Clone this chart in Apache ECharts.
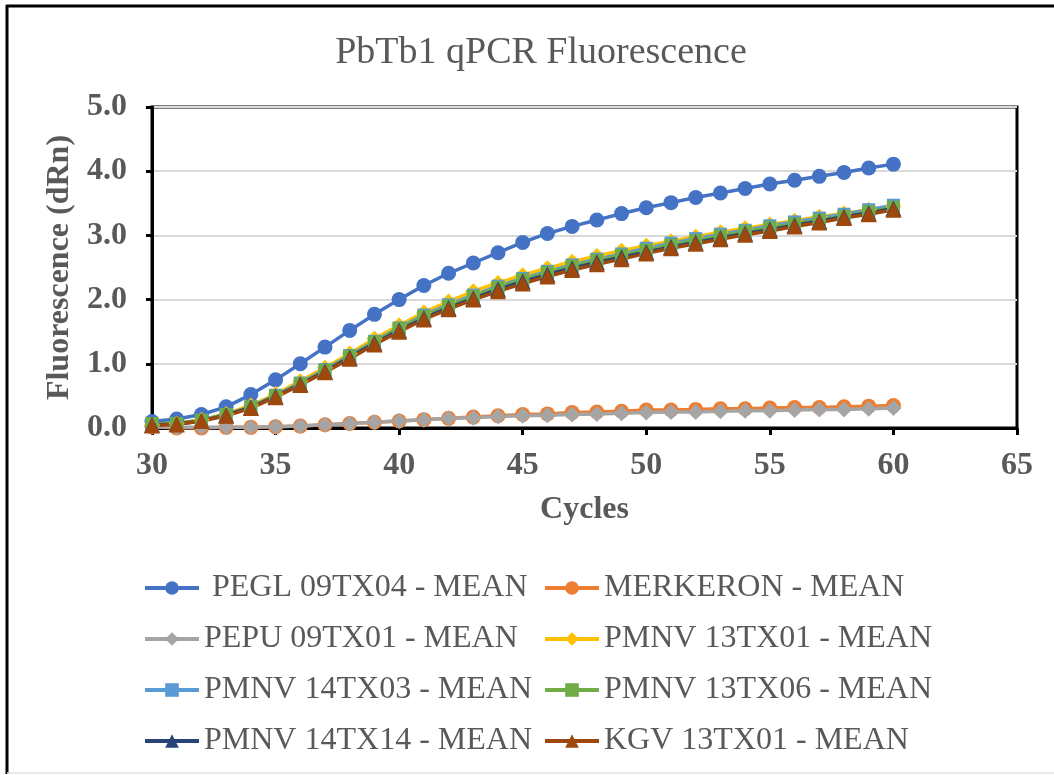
<!DOCTYPE html>
<html>
<head>
<meta charset="utf-8">
<script src="https://cdn.jsdelivr.net/npm/echarts@6/dist/echarts.min.js"></script>
<style>html,body{margin:0;padding:0;background:#fff;}#c{width:1054px;height:775px;}</style>
</head>
<body>
<div id="c"></div>
<script>
var cycles = [30,31,32,33,34,35,36,37,38,39,40,41,42,43,44,45,46,47,48,49,50,51,52,53,54,55,56,57,58,59,60];
var pegl09tx04 = [0.10,0.14,0.21,0.33,0.52,0.75,1.00,1.26,1.52,1.77,2.00,2.22,2.41,2.57,2.73,2.89,3.03,3.14,3.24,3.34,3.43,3.51,3.59,3.66,3.73,3.80,3.86,3.92,3.98,4.05,4.11];
var merkeron = [0.02,0.00,0.00,0.01,0.01,0.02,0.03,0.05,0.07,0.09,0.11,0.13,0.15,0.17,0.19,0.21,0.22,0.24,0.25,0.26,0.28,0.28,0.29,0.30,0.30,0.31,0.32,0.32,0.33,0.34,0.35];
var pepu09tx01 = [0.02,0.01,0.01,0.01,0.01,0.02,0.03,0.05,0.07,0.09,0.11,0.13,0.15,0.16,0.18,0.19,0.20,0.21,0.22,0.23,0.24,0.25,0.25,0.26,0.27,0.27,0.28,0.29,0.29,0.30,0.31];
var pmnv13tx01 = [0.05,0.07,0.13,0.22,0.35,0.53,0.73,0.94,1.16,1.39,1.60,1.80,1.97,2.13,2.26,2.38,2.49,2.59,2.68,2.76,2.84,2.91,2.98,3.05,3.11,3.17,3.23,3.29,3.34,3.40,3.45];
var pmnv14tx03 = [0.06,0.07,0.12,0.21,0.33,0.51,0.70,0.91,1.13,1.35,1.56,1.76,1.92,2.07,2.21,2.33,2.44,2.54,2.63,2.71,2.80,2.88,2.95,3.02,3.08,3.15,3.21,3.27,3.33,3.40,3.47];
var pmnv13tx06 = [0.07,0.07,0.12,0.21,0.33,0.50,0.69,0.90,1.12,1.34,1.55,1.74,1.90,2.05,2.19,2.31,2.42,2.52,2.61,2.69,2.77,2.85,2.92,2.99,3.06,3.12,3.18,3.24,3.30,3.37,3.44];
var pmnv14tx14 = [0.05,0.06,0.11,0.20,0.32,0.49,0.68,0.88,1.10,1.32,1.52,1.71,1.87,2.02,2.16,2.28,2.39,2.49,2.58,2.66,2.74,2.82,2.89,2.96,3.03,3.09,3.16,3.22,3.29,3.35,3.42];
var kgv13tx01 = [0.04,0.06,0.11,0.19,0.31,0.48,0.67,0.87,1.08,1.30,1.50,1.69,1.85,2.00,2.13,2.25,2.36,2.46,2.55,2.63,2.72,2.80,2.87,2.94,3.01,3.07,3.14,3.20,3.27,3.33,3.40];
var seriesNames = [' PEGL 09TX04 - MEAN','MERKERON - MEAN','PEPU 09TX01 - MEAN','PMNV 13TX01 - MEAN','PMNV 14TX03 - MEAN','PMNV 13TX06 - MEAN','PMNV 14TX14 - MEAN','KGV 13TX01 - MEAN'];
var xTicks = [30,35,40,45,50,55,60,65];
var yTicks = [0,1,2,3,4,5];

var seriesData = [pegl09tx04, merkeron, pepu09tx01, pmnv13tx01, pmnv14tx03, pmnv13tx06, pmnv14tx14, kgv13tx01];
var colors = ['#4472C4','#ED7D31','#A5A5A5','#FFC000','#5B9BD5','#70AD47','#264478','#9E480E'];
var symbols = ['circle','circle','diamond','diamond','rect','rect','triangle','triangle'];
var sizes = [15,15,16,16,13,13,16,16];

var chart = echarts.init(document.getElementById('c'), null, {renderer:'canvas'});
var FONT = '"Liberation Serif", "Times New Roman", "DejaVu Serif", serif';
var series = seriesData.map(function(d, i){
  return {
    name: seriesNames[i], type:'line', data: d.map(function(v, j){ return [cycles[j], v]; }),
    symbol: symbols[i], symbolSize: sizes[i], showSymbol:true,
    lineStyle:{color:colors[i], width:3.5}, itemStyle:{color:colors[i]},
    emphasis:{disabled:true}, animation:false
  };
});
var legendText = {fontFamily:FONT, fontSize:32, color:'#595959', lineHeight:34};
var legendBase = {orient:'vertical', top:566, itemWidth:54, itemHeight:17, itemGap:17,
  textStyle:legendText, selectedMode:false, lineStyle:{width:4}};
chart.setOption({
  animation:false,
  color: colors,
  title:{text:'PbTb1 qPCR Fluorescence', left:536, top:29, textAlign:'center',
    textStyle:{fontFamily:FONT, fontSize:38, fontWeight:'normal', color:'#595959'}},
  grid:{left:152, right:37, top:107, bottom:347, show:true, borderColor:'#000', borderWidth:3, containLabel:false},
  xAxis:{type:'value', min:30, max:65, interval:5,
    name:'Cycles', nameLocation:'middle', nameGap:66,
    nameTextStyle:{fontFamily:FONT, fontSize:32, fontWeight:'bold', color:'#595959'},
    axisLine:{show:true, lineStyle:{color:'#000', width:3}},
    axisTick:{show:true, length:7, inside:false, lineStyle:{color:'#000', width:3}},
    axisLabel:{fontFamily:FONT, fontSize:32, fontWeight:'bold', color:'#595959', margin:22,
      formatter:function(v){ return xTicks.indexOf(v) >= 0 ? String(v) : ''; }},
    splitLine:{show:false}},
  yAxis:{type:'value', min:0, max:5, interval:1,
    name:'Fluorescence (dRn)', nameLocation:'middle', nameGap:72, nameRotate:90,
    nameTextStyle:{fontFamily:FONT, fontSize:32, fontWeight:'bold', color:'#595959'},
    axisLine:{show:true, lineStyle:{color:'#000', width:3}},
    axisTick:{show:true, length:6, lineStyle:{color:'#000', width:3}},
    axisLabel:{fontFamily:FONT, fontSize:32, fontWeight:'bold', color:'#595959', margin:25,
      formatter:function(v){ return yTicks.indexOf(v) >= 0 ? v.toFixed(1) : ''; }},
    splitLine:{show:true, lineStyle:{color:'#D9D9D9', width:2}}},
  legend:[
    Object.assign({}, legendBase, {left:138, data:[seriesNames[0],seriesNames[2],seriesNames[4],seriesNames[6]]}),
    Object.assign({}, legendBase, {left:538, data:[seriesNames[1],seriesNames[3],seriesNames[5],seriesNames[7]]})
  ],
  graphic:[
    {type:'line', shape:{x1:6, y1:6, x2:1054, y2:6}, style:{stroke:'#000', lineWidth:3}, silent:true},
    {type:'line', shape:{x1:7, y1:5, x2:7, y2:774}, style:{stroke:'#000', lineWidth:3}, silent:true},
    {type:'line', shape:{x1:7, y1:773, x2:1054, y2:773}, style:{stroke:'#E0E0E0', lineWidth:1.5}, silent:true}
  ],
  series: series
});
</script>
</body>
</html>
